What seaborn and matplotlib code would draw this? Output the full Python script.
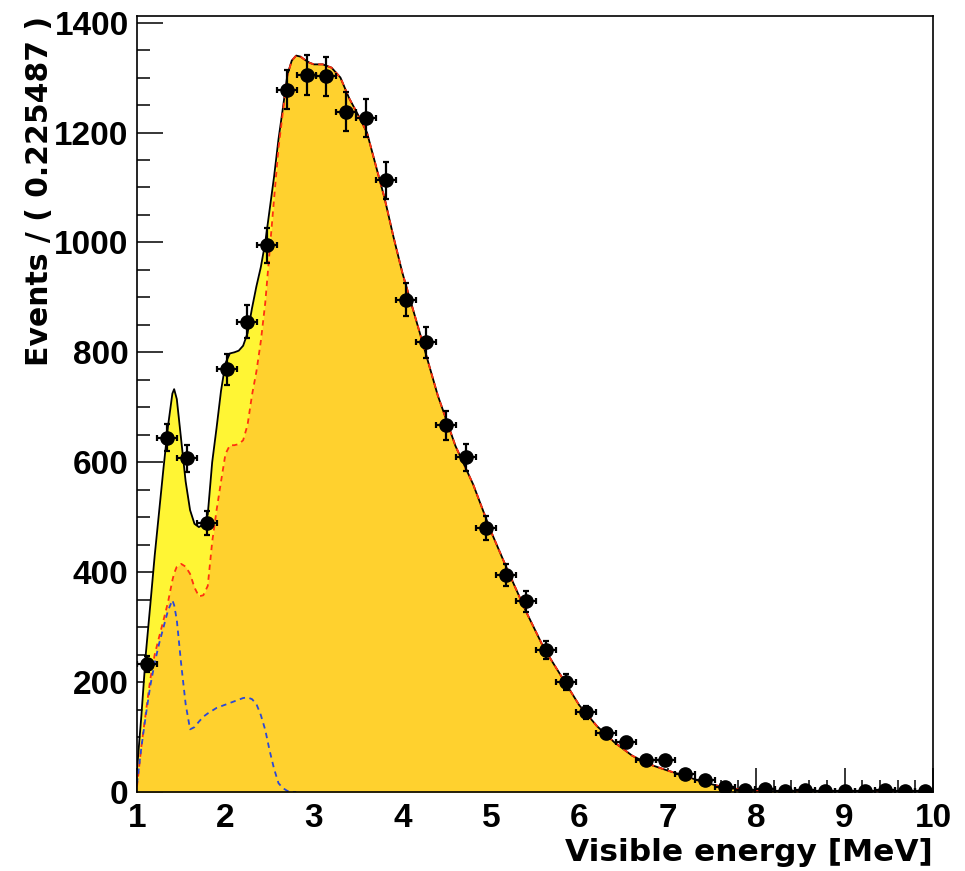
import numpy as np
import pandas as pd
import seaborn as sns
import matplotlib.pyplot as plt
from matplotlib.ticker import MultipleLocator

# binned data (40 bins of 0.225487 MeV between 1 and 10 MeV)
bin_width = 0.225487
counts = [233, 645, 607, 489, 769, 856, 995, 1278, 1305, 1302,
          1238, 1226, 1113, 896, 818, 667, 609, 480, 395, 347,
          258, 200, 145, 107, 91, 58, 58, 33, 22, 10,
          4, 6, 2, 4, 2, 2, 1, 3, 1, 1]

# fit curves
curve_x = [1.00, 1.05, 1.10, 1.15, 1.20, 1.25, 1.30, 1.35, 1.40, 1.42,
           1.45, 1.50, 1.55, 1.60, 1.65, 1.70, 1.75, 1.80, 1.85, 1.90,
           1.95, 2.00, 2.05, 2.10, 2.15, 2.20, 2.25, 2.30, 2.35, 2.40,
           2.45, 2.50, 2.55, 2.60, 2.65, 2.70, 2.75, 2.80, 2.85, 2.90,
           2.95, 3.00, 3.10, 3.20, 3.30, 3.40, 3.50, 3.60, 3.70, 3.80,
           3.90, 4.00, 4.20, 4.40, 4.60, 4.80, 5.00, 5.20, 5.40, 5.60,
           5.80, 6.00, 6.20, 6.40, 6.60, 6.80, 7.00, 7.20, 7.40, 7.60,
           7.80, 8.00, 8.50, 9.00, 10.00]
total_fit = [40, 140, 252, 340, 430, 510, 590, 665, 725, 733,
             715, 640, 565, 513, 488, 482, 487, 505, 600, 663,
             730, 780, 798, 800, 803, 812, 835, 880, 920, 955,
             1000, 1060, 1120, 1188, 1245, 1305, 1331, 1340, 1338, 1332,
             1327, 1324, 1324, 1318, 1300, 1262, 1232, 1200, 1140, 1080,
             1010, 945, 834, 722, 630, 560, 475, 400, 328, 262,
             210, 158, 120, 90, 66, 50, 39, 29, 18, 10,
             5, 2, 0.5, 0, 0]
main_fit = [10, 84, 145, 205, 250, 282, 313, 345, 385, 398,
            410, 415, 410, 397, 372, 356, 358, 375, 455, 513,
            565, 615, 631, 631, 633, 640, 668, 722, 765, 820,
            890, 985, 1080, 1172, 1238, 1303, 1331, 1340, 1338, 1332,
            1327, 1324, 1324, 1318, 1300, 1262, 1232, 1200, 1140, 1080,
            1010, 945, 834, 722, 630, 560, 475, 400, 328, 262,
            210, 158, 120, 90, 66, 50, 39, 29, 18, 10,
            5, 2, 0.5, 0, 0]

bkg_x = [1.00, 1.05, 1.10, 1.15, 1.20, 1.25, 1.30, 1.35, 1.40, 1.42,
         1.45, 1.50, 1.55, 1.60, 1.65, 1.70, 1.75, 1.80, 1.85, 1.90,
         1.95, 2.00, 2.05, 2.10, 2.15, 2.20, 2.25, 2.30, 2.35, 2.40,
         2.45, 2.50, 2.55, 2.60, 2.65, 2.70, 2.75, 2.80]
bkg_fit = [15, 82, 140, 193, 235, 270, 300, 330, 349, 340,
           313, 232, 160, 114, 118, 128, 137, 143, 148, 153,
           156, 159, 162, 165, 168, 171, 172, 169, 160, 140,
           113, 75, 42, 16, 7, 2, 0, 0]

edges = 1 + bin_width * np.arange(len(counts) + 1)
df = pd.DataFrame({'energy': (edges[:-1] + edges[1:]) / 2, 'events': counts})
df['err'] = np.sqrt(df['events'])  # Poisson errors

sns.set_style('ticks')
plt.rcParams['font.family'] = ['Liberation Sans', 'DejaVu Sans']
plt.rcParams['font.weight'] = 'bold'

fig = plt.figure(figsize=(9.65, 8.71), dpi=100)
ax = fig.add_axes([137/965, 1 - 792/871, 796/965, 776/871])

# stacked fills: background on top (yellow), main component (gold)
ax.fill_between(curve_x, 0, total_fit, color='#fff534', lw=0)
ax.fill_between(curve_x, 0, main_fit, color='#ffd12e', lw=0)

sns.lineplot(x=curve_x, y=total_fit, ax=ax, color='black', lw=1.3, estimator=None, sort=False)
sns.lineplot(x=curve_x, y=main_fit, ax=ax, color='#ff3010', lw=1.3, estimator=None, sort=False,
             linestyle=(0, (3, 2.5)))
sns.lineplot(x=bkg_x, y=bkg_fit, ax=ax, color='#2a48d8', lw=1.3, estimator=None, sort=False,
             linestyle=(0, (3, 2.5)))

ax.errorbar(df['energy'], df['events'], xerr=bin_width / 2, yerr=df['err'], fmt='o',
            color='black', ms=9.5, elinewidth=1.6, capsize=2.5, capthick=1.6, zorder=5)

ax.set_xlim(1, 10)
ax.set_ylim(0, 1412)
ax.xaxis.set_major_locator(MultipleLocator(1))
ax.xaxis.set_minor_locator(MultipleLocator(0.2))
ax.yaxis.set_major_locator(MultipleLocator(200))
ax.yaxis.set_minor_locator(MultipleLocator(50))
ax.tick_params(axis='both', which='both', direction='in', top=False, right=False,
               width=1.1, colors='black', labelsize=24)
ax.tick_params(axis='y', which='major', length=19, pad=6)
ax.tick_params(axis='y', which='minor', length=9.5)
ax.tick_params(axis='x', which='major', length=17, pad=8)
ax.tick_params(axis='x', which='minor', length=8.5)
for s in ax.spines.values():
    s.set_linewidth(1.2)
    s.set_color('black')

# axis titles are wider than the tick digits in the original, DejaVu bold fits that
ax.set_xlabel('Visible energy [MeV]', fontsize=22.5, fontweight='bold', color='black',
              family='DejaVu Sans', loc='right')
ax.xaxis.set_label_coords(1.0, -0.059)
ax.set_ylabel('Events / ( 0.225487 )', fontsize=21.5, fontweight='bold', color='black',
              family='DejaVu Sans', loc='top')
ax.yaxis.set_label_coords(-0.104, 1.0)

fig.savefig('out.png', dpi=100)
